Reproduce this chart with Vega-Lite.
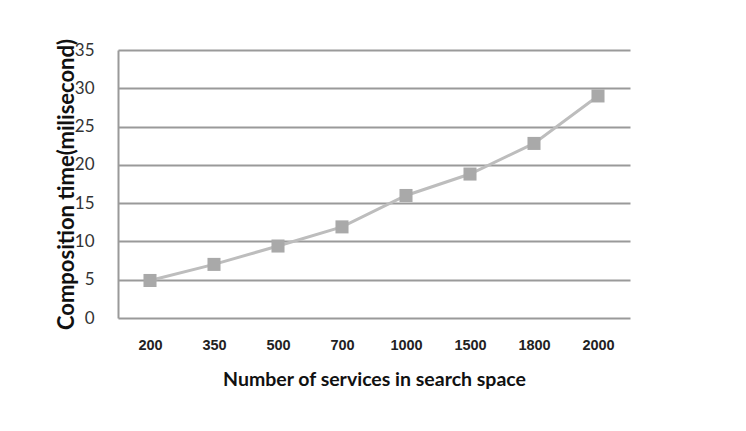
{
  "$schema": "https://vega.github.io/schema/vega-lite/v6.json",
  "autosize": {"type": "none"},
  "padding": {"left": 118, "top": 50, "right": 116, "bottom": 113},
  "width": 512,
  "height": 268,
  "background": "white",
  "config": {
    "view": {"stroke": null},
    "axis": {"ticks": false, "domainColor": "#9a9a9a", "domainWidth": 2, "gridColor": "#9a9a9a", "gridWidth": 2}
  },
  "data": {
    "values": [
      {"services": "200", "time": 4.9},
      {"services": "350", "time": 7.0},
      {"services": "500", "time": 9.4},
      {"services": "700", "time": 11.9},
      {"services": "1000", "time": 16.0},
      {"services": "1500", "time": 18.8},
      {"services": "1800", "time": 22.8},
      {"services": "2000", "time": 29.0}
    ]
  },
  "encoding": {
    "x": {
      "field": "services",
      "type": "ordinal",
      "sort": null,
      "scale": {"type": "point", "padding": 0.5},
      "axis": {
        "title": "Number of services in search space",
        "titleFont": "Lato",
        "titleFontSize": 19.5,
        "titleFontWeight": "bold",
        "titleColor": "#111111",
        "titlePadding": 19,
        "labelAngle": 0,
        "labelFont": "Liberation Sans",
        "labelFontSize": 14.5,
        "labelFontWeight": "bold",
        "labelColor": "#222222",
        "labelPadding": 20,
        "domain": false,
        "grid": false
      }
    },
    "y": {
      "field": "time",
      "type": "quantitative",
      "scale": {"domain": [0, 35]},
      "axis": {
        "title": "Composition time(milisecond)",
        "titleFont": "Lato",
        "titleFontSize": 22,
        "titleFontWeight": "bold",
        "titleColor": "#111111",
        "titlePadding": -4,
        "values": [0, 5, 10, 15, 20, 25, 30, 35],
        "labelFont": "Lato",
        "labelFontSize": 17,
        "labelColor": "#333333",
        "labelPadding": 24,
        "grid": true
      }
    }
  },
  "layer": [
    {"mark": {"type": "line", "color": "#bdbdbd", "strokeWidth": 3}},
    {"mark": {"type": "point", "shape": "square", "filled": true, "size": 170, "color": "#a9a9a9", "opacity": 1}}
  ]
}
